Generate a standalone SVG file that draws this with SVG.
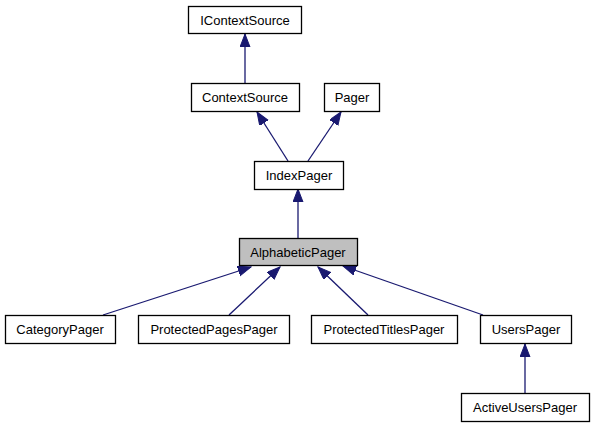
<svg xmlns="http://www.w3.org/2000/svg" width="595" height="427" viewBox="0 0 595 427">
<style>
.node rect{fill:#ffffff;stroke:#000000;stroke-width:1.3}
.node.cur rect{fill:#bfbfbf}
.node text{font-family:"Liberation Sans",Arial,sans-serif;font-size:13px;text-anchor:middle;fill:#000000}
.edge{stroke:#191970;stroke-width:1.3;fill:none;marker-end:url(#ah)}
</style>
<defs>
<marker id="ah" markerUnits="userSpaceOnUse" markerWidth="14" markerHeight="11" refX="13" refY="5" orient="auto">
<path d="M0,0 L13,5 L0,10 z" fill="#191970" stroke="#191970" stroke-width="1"/>
</marker>
</defs>
<rect width="595" height="427" fill="#ffffff"/>
<g id="connectors">
<line class="edge" x1="245" y1="83" x2="245" y2="34"/>
<line class="edge" x1="288" y1="161" x2="257" y2="112"/>
<line class="edge" x1="308" y1="161" x2="341" y2="112"/>
<line class="edge" x1="298" y1="238" x2="298" y2="189"/>
<line class="edge" x1="103" y1="315" x2="251" y2="267"/>
<line class="edge" x1="229" y1="315" x2="280" y2="267"/>
<line class="edge" x1="368" y1="315" x2="318" y2="267"/>
<line class="edge" x1="483" y1="315" x2="343" y2="266"/>
<line class="edge" x1="525" y1="393" x2="525" y2="344"/>
</g>
<g id="IContextSource" class="node"><rect x="188.5" y="6.5" width="113" height="27"/><text x="245" y="25">IContextSource</text></g>
<g id="ContextSource" class="node"><rect x="191.5" y="83.5" width="108" height="28"/><text x="245" y="102">ContextSource</text></g>
<g id="Pager" class="node"><rect x="324.5" y="83.5" width="55" height="28"/><text x="352" y="102">Pager</text></g>
<g id="IndexPager" class="node"><rect x="254.5" y="161.5" width="89" height="28"/><text x="299" y="180">IndexPager</text></g>
<g id="AlphabeticPager" class="node cur"><rect x="239.5" y="238.5" width="118" height="27"/><text x="298" y="257">AlphabeticPager</text></g>
<g id="CategoryPager" class="node"><rect x="5.5" y="315.5" width="110" height="28"/><text x="60" y="334">CategoryPager</text></g>
<g id="ProtectedPagesPager" class="node"><rect x="138.5" y="315.5" width="151" height="28"/><text x="214" y="334">ProtectedPagesPager</text></g>
<g id="ProtectedTitlesPager" class="node"><rect x="311.5" y="315.5" width="146" height="28"/><text x="384" y="334">ProtectedTitlesPager</text></g>
<g id="UsersPager" class="node"><rect x="480.5" y="315.5" width="91" height="28"/><text x="526" y="334">UsersPager</text></g>
<g id="ActiveUsersPager" class="node"><rect x="461.5" y="393.5" width="128" height="28"/><text x="525" y="412">ActiveUsersPager</text></g>
</svg>
